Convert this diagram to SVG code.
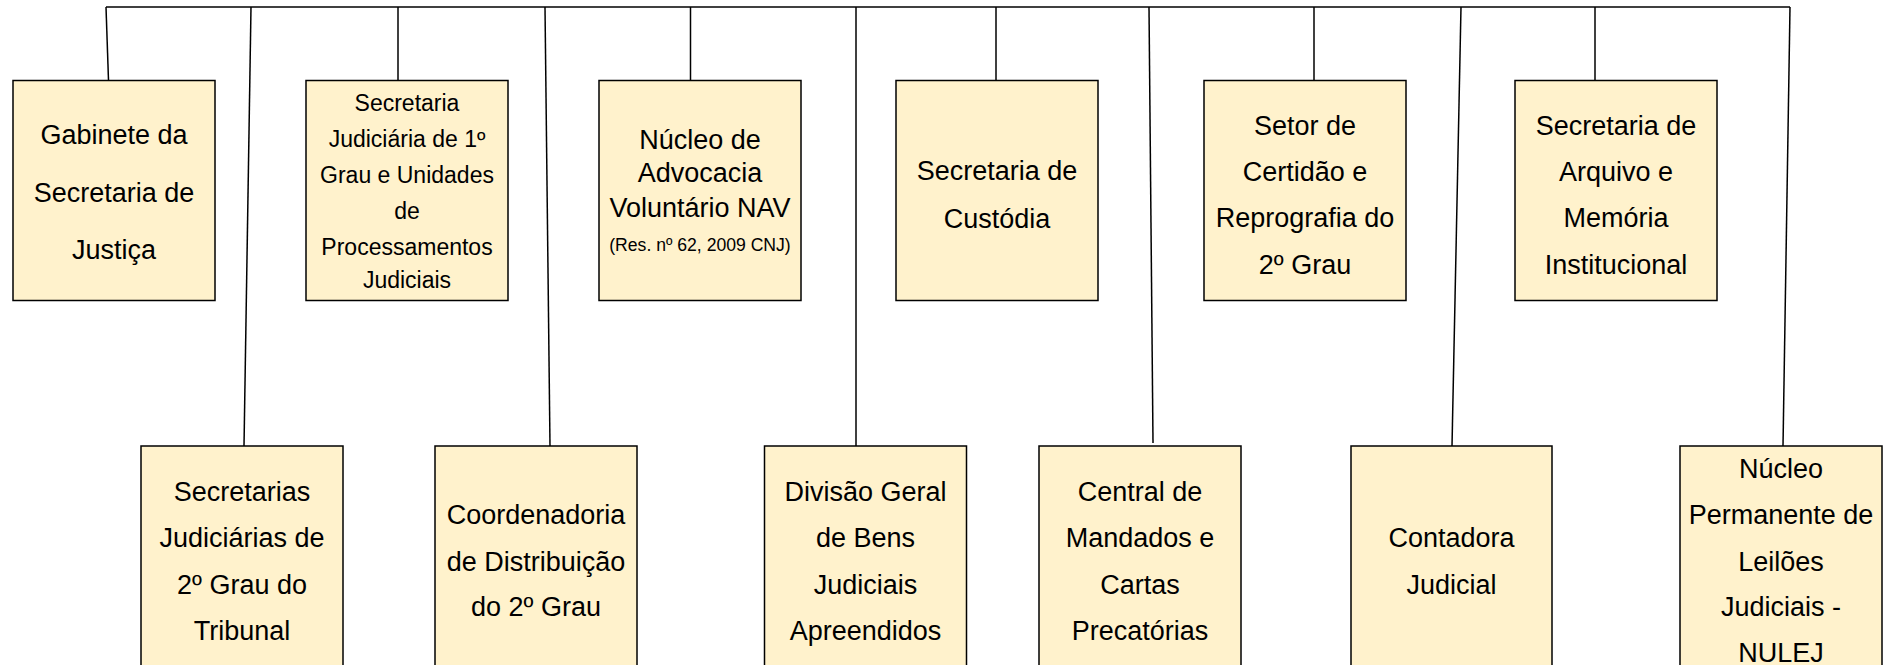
<svg xmlns="http://www.w3.org/2000/svg" width="1890" height="665" viewBox="0 0 1890 665">
<style>
.box{fill:#FFF2CC;stroke:#000;stroke-width:1.5}
.t{font-family:"Liberation Sans",Arial,sans-serif;font-size:27px;fill:#000;text-anchor:middle}
.s{font-size:23px}
.xs{font-size:17.6px}
.c{stroke:#000;stroke-width:1.5;fill:none}
</style>
<rect width="1890" height="665" fill="#fff"/>
<g id="connectors">
<line class="c" x1="106" y1="7" x2="1790" y2="7"/>
<line class="c" x1="106" y1="7" x2="108.5" y2="80.5"/>
<line class="c" x1="398" y1="7" x2="398" y2="80.5"/>
<line class="c" x1="690.5" y1="7" x2="690.5" y2="80.5"/>
<line class="c" x1="996" y1="7" x2="996" y2="80.5"/>
<line class="c" x1="1314" y1="7" x2="1314" y2="80.5"/>
<line class="c" x1="1595" y1="7" x2="1595" y2="80.5"/>
<line class="c" x1="251" y1="7" x2="244" y2="446"/>
<line class="c" x1="545" y1="7" x2="550" y2="446"/>
<line class="c" x1="856" y1="7" x2="856" y2="446"/>
<line class="c" x1="1149" y1="7" x2="1153" y2="443"/>
<line class="c" x1="1461" y1="7" x2="1452" y2="446"/>
<line class="c" x1="1790" y1="7" x2="1783" y2="446"/>
</g>
<g id="gabinete">
<rect class="box" x="13" y="80.5" width="202" height="220"/>
<text class="t" x="114" y="144">Gabinete da</text>
<text class="t" x="114" y="202">Secretaria de</text>
<text class="t" x="114" y="259">Justiça</text>
</g>
<g id="sec-jud-1grau">
<rect class="box" x="306" y="80.5" width="202" height="220"/>
<text class="t s" x="407" y="111">Secretaria</text>
<text class="t s" x="407" y="147">Judiciária de 1º</text>
<text class="t s" x="407" y="182.5">Grau e Unidades</text>
<text class="t s" x="407" y="218.5">de</text>
<text class="t s" x="407" y="254.5">Processamentos</text>
<text class="t s" x="407" y="288">Judiciais</text>
</g>
<g id="nav">
<rect class="box" x="599" y="80.5" width="202" height="220"/>
<text class="t" x="700" y="149">Núcleo de</text>
<text class="t" x="700" y="182">Advocacia</text>
<text class="t" x="700" y="216.5">Voluntário NAV</text>
<text class="t xs" x="700" y="250.5">(Res. nº 62, 2009 CNJ)</text>
</g>
<g id="custodia">
<rect class="box" x="896" y="80.5" width="202" height="220"/>
<text class="t" x="997" y="180">Secretaria de</text>
<text class="t" x="997" y="227.5">Custódia</text>
</g>
<g id="certidao">
<rect class="box" x="1204" y="80.5" width="202" height="220"/>
<text class="t" x="1305" y="135">Setor de</text>
<text class="t" x="1305" y="180.5">Certidão e</text>
<text class="t" x="1305" y="227">Reprografia do</text>
<text class="t" x="1305" y="273.5">2º Grau</text>
</g>
<g id="arquivo">
<rect class="box" x="1515" y="80.5" width="202" height="220"/>
<text class="t" x="1616" y="135">Secretaria de</text>
<text class="t" x="1616" y="180.5">Arquivo e</text>
<text class="t" x="1616" y="227">Memória</text>
<text class="t" x="1616" y="273.5">Institucional</text>
</g>
<g id="sec-jud-2grau">
<rect class="box" x="141" y="446" width="202" height="240"/>
<text class="t" x="242" y="501">Secretarias</text>
<text class="t" x="242" y="547">Judiciárias de</text>
<text class="t" x="242" y="593.5">2º Grau do</text>
<text class="t" x="242" y="639.5">Tribunal</text>
</g>
<g id="coordenadoria">
<rect class="box" x="435" y="446" width="202" height="240"/>
<text class="t" x="536" y="524">Coordenadoria</text>
<text class="t" x="536" y="570.5">de Distribuição</text>
<text class="t" x="536" y="616">do 2º Grau</text>
</g>
<g id="divisao">
<rect class="box" x="764.5" y="446" width="202" height="240"/>
<text class="t" x="865.5" y="501">Divisão Geral</text>
<text class="t" x="865.5" y="547">de Bens</text>
<text class="t" x="865.5" y="593.5">Judiciais</text>
<text class="t" x="865.5" y="639.5">Apreendidos</text>
</g>
<g id="central">
<rect class="box" x="1039" y="446" width="202" height="240"/>
<text class="t" x="1140" y="501">Central de</text>
<text class="t" x="1140" y="547">Mandados e</text>
<text class="t" x="1140" y="593.5">Cartas</text>
<text class="t" x="1140" y="639.5">Precatórias</text>
</g>
<g id="contadora">
<rect class="box" x="1351" y="446" width="201" height="240"/>
<text class="t" x="1451.5" y="547">Contadora</text>
<text class="t" x="1451.5" y="593.5">Judicial</text>
</g>
<g id="leiloes">
<rect class="box" x="1680" y="446" width="202" height="240"/>
<text class="t" x="1781" y="478">Núcleo</text>
<text class="t" x="1781" y="524">Permanente de</text>
<text class="t" x="1781" y="570.5">Leilões</text>
<text class="t" x="1781" y="616">Judiciais -</text>
<text class="t" x="1781" y="662">NULEJ</text>
</g>
</svg>
